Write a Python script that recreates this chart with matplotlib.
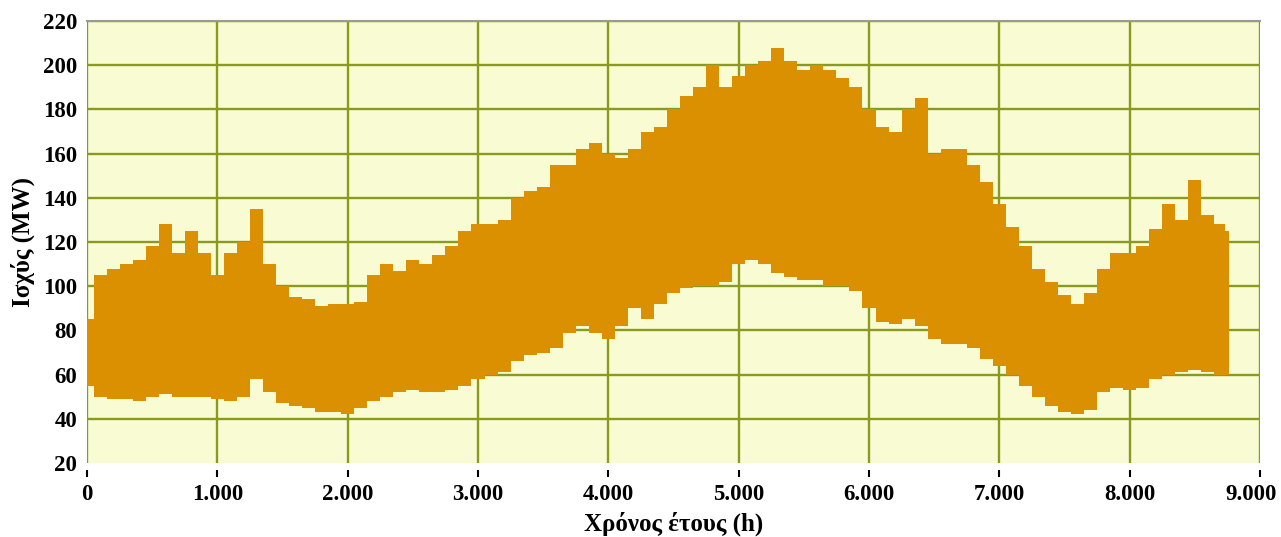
import matplotlib
matplotlib.use("Agg")
import matplotlib.pyplot as plt
import matplotlib.transforms as mtransforms
import numpy as np

# hourly load envelope, one value every 100 h (last point at 8760 h)
hours = list(range(0, 8800, 100))[:88] + [8760]

load_upper = [
    85, 105, 108, 110, 112, 118, 128, 115, 125, 115,
    105, 115, 120, 135, 110, 100, 95, 94, 91, 92,
    92, 93, 105, 110, 107, 112, 110, 114, 118, 125,
    128, 128, 130, 140, 143, 145, 155, 155, 162, 165,
    160, 158, 162, 170, 172, 180, 186, 190, 200, 190,
    195, 200, 202, 208, 202, 198, 200, 198, 194, 190,
    180, 172, 170, 180, 185, 160, 162, 162, 155, 147,
    137, 127, 118, 108, 102, 96, 92, 97, 108, 115,
    115, 118, 126, 137, 130, 148, 132, 128, 125,
]

load_lower = [
    55, 50, 49, 49, 48, 50, 51, 50, 50, 50,
    49, 48, 50, 58, 52, 47, 46, 45, 43, 43,
    42, 45, 48, 50, 52, 53, 52, 52, 53, 55,
    58, 60, 61, 66, 69, 70, 72, 79, 82, 79,
    76, 82, 90, 85, 92, 97, 99, 100, 100, 102,
    110, 112, 110, 106, 104, 103, 103, 100, 100, 98,
    90, 84, 83, 85, 82, 76, 74, 74, 72, 67,
    64, 60, 55, 50, 46, 43, 42, 44, 52, 54,
    53, 54, 58, 60, 61, 62, 61, 60, 60,
]

x_ticks = [0, 1000, 2000, 3000, 4000, 5000, 6000, 7000, 8000, 9000]
x_tick_labels = ["0", "1.000", "2.000", "3.000", "4.000", "5.000", "6.000", "7.000", "8.000", "9.000"]
y_ticks = [20, 40, 60, 80, 100, 120, 140, 160, 180, 200, 220]

plt.rcParams["font.family"] = ["Liberation Serif", "DejaVu Serif"]
plt.rcParams["font.weight"] = "bold"

grid_color = "#8a9a1c"
bg_color = "#f9fcd2"
load_color = "#da9000"

fig = plt.figure(figsize=(12.81, 5.37), dpi=100)
ax = fig.add_axes([87 / 1281, 1 - 463 / 537, (1260 - 87) / 1281, (463 - 21) / 537])
ax.set_facecolor(bg_color)

ax.fill_between(hours, load_lower, load_upper, step="mid", color=load_color, lw=0, zorder=3)

ax.set_xlim(0, 9000)
ax.set_ylim(20, 220)
ax.set_xticks(x_ticks)
ax.set_xticklabels(x_tick_labels)
ax.set_yticks(y_ticks)

ax.grid(True, color=grid_color, lw=1.7)
ax.set_axisbelow(True)
ax.xaxis.get_gridlines()[-1].set_visible(False)
ax.yaxis.get_gridlines()[0].set_visible(False)

for side in ["right", "left"]:
    ax.spines[side].set_visible(False)
ax.spines["top"].set_color("#999999")
ax.spines["top"].set_linewidth(1.5)
ax.spines["bottom"].set_position(("outward", 5))
ax.spines["bottom"].set_color("none")

ax.tick_params(axis="x", length=5, width=1.5, color="black", pad=5, labelsize=16.5)
ax.tick_params(axis="y", length=0, pad=7, labelsize=16.5)

# last x label sits against the right edge of the picture
last = ax.get_xticklabels()[-1]
last.set_transform(last.get_transform() + mtransforms.ScaledTranslation(-9 / 100, 0, fig.dpi_scale_trans))

ax.set_xlabel("Χρόνος έτους (h)", fontsize=18, fontweight="bold", labelpad=5)
ax.set_ylabel("Ισχύς (MW)", fontsize=18, fontweight="bold", labelpad=6)

fig.savefig("out.png", dpi=100)
